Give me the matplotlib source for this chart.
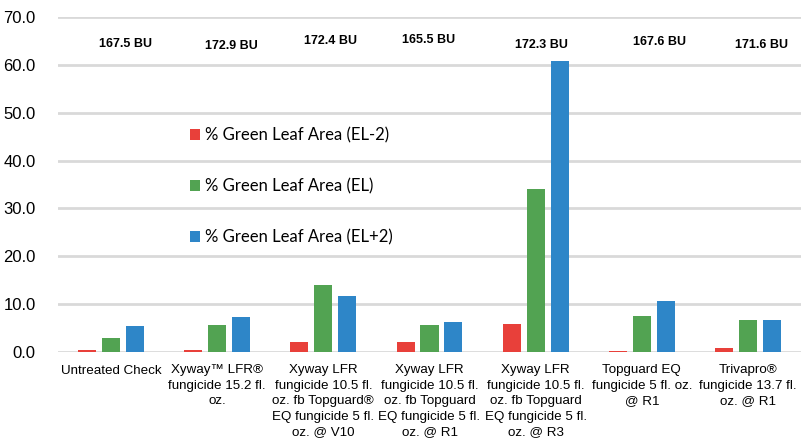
import matplotlib
matplotlib.use("Agg")
import matplotlib.pyplot as plt
import numpy as np

categories = [
    "Untreated Check",
    "Xyway\u2122 LFR\u00ae\nfungicide 15.2 fl.\noz.",
    "Xyway LFR\nfungicide 10.5 fl.\noz. fb Topguard\u00ae\nEQ fungicide 5 fl.\noz. @ V10",
    "Xyway LFR\nfungicide 10.5 fl.\noz. fb Topguard\nEQ fungicide 5 fl.\noz. @ R1",
    "Xyway LFR\nfungicide 10.5 fl.\noz. fb Topguard\nEQ fungicide 5 fl.\noz. @ R3",
    "Topguard EQ\nfungicide 5 fl. oz.\n@ R1",
    "Trivapro\u00ae\nfungicide 13.7 fl.\noz. @ R1",
]
el_minus2 = [0.5, 0.5, 2.0, 2.1, 5.8, 0.3, 0.8]
el = [2.9, 5.7, 14.0, 5.7, 34.0, 7.6, 6.7]
el_plus2 = [5.5, 7.3, 11.7, 6.3, 60.8, 10.6, 6.6]
yields = ["167.5 BU", "172.9 BU", "172.4 BU", "165.5 BU", "172.3 BU", "167.6 BU", "171.6 BU"]
series_names = ["% Green Leaf Area (EL-2)", "% Green Leaf Area (EL)", "% Green Leaf Area (EL+2)"]
yticks = [0, 10, 20, 30, 40, 50, 60, 70]

# layout-only: offsets of the yield labels
yield_dx = [0.14, 0.13, 0.07, -0.01, 0.05, 0.17, 0.13]
yield_y = [64.3, 63.9, 64.9, 65.1, 64.1, 64.7, 64.1]

colors = ["#E8403A", "#52A352", "#2E86C8"]

fig = plt.figure(figsize=(8.01, 4.38), dpi=100)
ax = fig.add_axes([58 / 801, (438 - 352) / 438, (801 - 58) / 801, (352 - 17) / 438])

x = np.arange(len(categories))
w = 0.17
step = 0.225
for i, (vals, c, name) in enumerate(zip([el_minus2, el, el_plus2], colors, series_names)):
    ax.bar(x + (i - 1) * step, vals, width=w, color=c, label=name, zorder=3)

ax.set_ylim(0, 70)
ax.set_xlim(-0.5, len(categories) - 0.5)
ax.set_yticks(yticks)
ax.set_yticklabels([f"{v:.1f}" for v in yticks], fontsize=12, family="Liberation Sans")
ax.set_xticks(x)
ax.set_xticklabels(categories, fontsize=9.6, family="Liberation Sans", linespacing=1.38, va="top")
ax.tick_params(axis="both", length=0)
ax.tick_params(axis="x", pad=9)
ax.tick_params(axis="y", pad=16)
for s in ax.spines.values():
    s.set_visible(False)
ax.grid(axis="y", color="#D9D9D9", linewidth=2, zorder=0)
ax.set_axisbelow(True)

for xi, lab, dx, yy in zip(x, yields, yield_dx, yield_y):
    ax.text(xi + dx, yy, lab, ha="center", va="center", fontsize=9, fontweight="bold",
            family="Liberation Sans")

leg = ax.legend(loc="upper left", bbox_to_anchor=((190 - 58) / 743, (352 - 127) / 335),
                frameon=False, borderaxespad=0, borderpad=0,
                prop={"family": "Lato", "size": 12}, handlelength=0.6, handleheight=0.6,
                handletextpad=0.3, labelspacing=2.1)

fig.savefig("out.png", dpi=100)
